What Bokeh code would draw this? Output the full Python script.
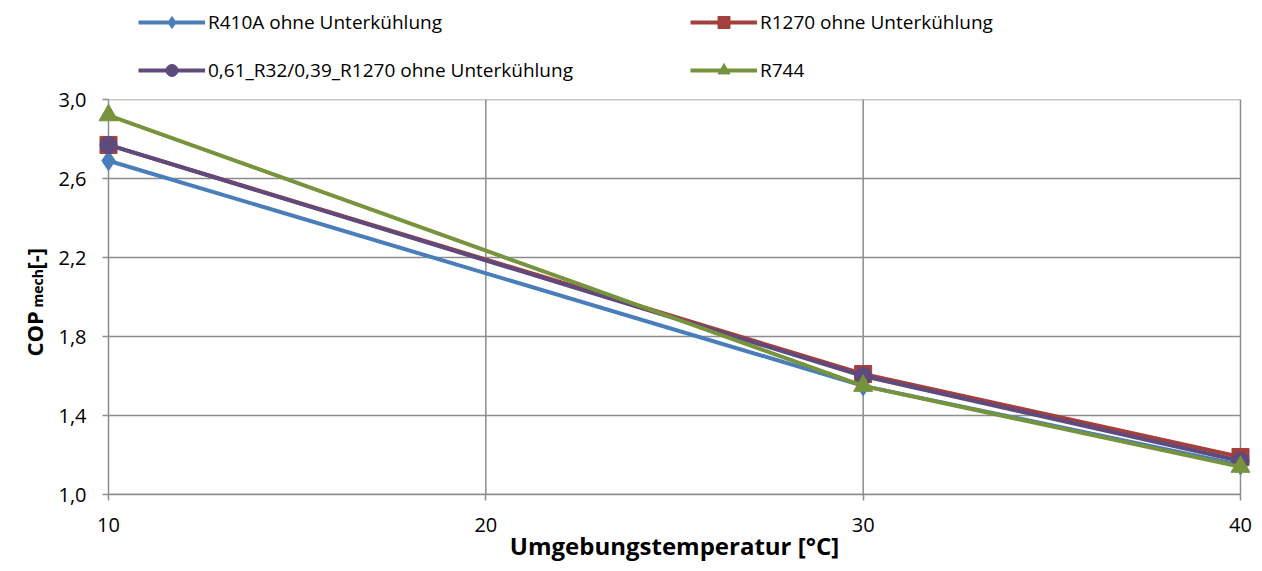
import math
from bokeh.plotting import figure
from bokeh.layouts import column, row
from bokeh.models import (Legend, LegendItem, Label, FixedTicker, CustomJSTickFormatter, Range1d)
from bokeh.embed import file_html
from bokeh.resources import INLINE

temps = [10, 30, 40]
r410a = [2.69, 1.55, 1.15]
r1270 = [2.77, 1.61, 1.19]
mix = [2.77, 1.60, 1.17]
r744 = [2.92, 1.55, 1.14]

names = ["R410A ohne Unterkühlung", "R1270 ohne Unterkühlung",
         "0,61_R32/0,39_R1270 ohne Unterkühlung", "R744"]
x_ticks = [10, 20, 30, 40]
y_ticks = [1.0, 1.4, 1.8, 2.2, 2.6, 3.0]

FONT = "Open Sans"
GRID = "#8c8c8c"
colors = ["#4A7EBB", "#A3403D", "#5F4A7D", "#77933C"]
markers = ["diamond", "square", "circle", "triangle"]
msizes = [20, 17, 17, 19]
series = [r410a, r1270, mix, r744]
LW = 4

# ---------------- main plot ----------------
LEG_H = 86
MAIN_W, MAIN_H = 1214, 571 - LEG_H
BL, BR, BT, BB = 50, 12, 13, 77
PAD_PX = 10
frame_w = MAIN_W - BL - BR
pad = PAD_PX * (x_ticks[-1] - x_ticks[0]) / (frame_w - 2 * PAD_PX)

p = figure(width=MAIN_W, height=MAIN_H, output_backend="svg", toolbar_location=None,
           x_range=Range1d(x_ticks[0] - pad, x_ticks[-1] + pad),
           y_range=Range1d(y_ticks[0], y_ticks[-1]),
           min_border_left=BL, min_border_right=BR, min_border_top=BT, min_border_bottom=BB)
p.background_fill_color = "white"
p.border_fill_color = "white"
p.outline_line_color = None
p.xgrid.visible = False
p.ygrid.visible = False

# grid / frame lines drawn from tick values
p.segment(x0=x_ticks, x1=x_ticks, y0=[y_ticks[0]] * len(x_ticks), y1=[y_ticks[-1]] * len(x_ticks),
          line_color=GRID, line_width=1.5)
p.segment(x0=[x_ticks[0]] * len(y_ticks), x1=[x_ticks[-1]] * len(y_ticks), y0=y_ticks, y1=y_ticks,
          line_color=GRID, line_width=1.5)

p.xaxis.ticker = FixedTicker(ticks=x_ticks)
p.yaxis.ticker = FixedTicker(ticks=y_ticks)
p.xaxis.bounds = (x_ticks[0], x_ticks[-1])
p.yaxis.formatter = CustomJSTickFormatter(code="return tick.toFixed(1).replace('.', ',');")
for ax in (p.xaxis, p.yaxis):
    ax.axis_line_color = GRID
    ax.axis_line_width = 1.5
    ax.major_tick_line_color = GRID
    ax.major_tick_line_width = 1.5
    ax.minor_tick_line_color = None
    ax.major_label_text_font = FONT
    ax.major_label_text_font_size = "20px"
    ax.major_label_text_color = "black"
p.xaxis.major_tick_out = 6
p.xaxis.major_tick_in = 0
# y axis sits at the frame edge; ticks are shifted inward to end at x = 10
p.yaxis.axis_line_color = None
p.yaxis.major_tick_in = PAD_PX
p.yaxis.major_tick_out = -(PAD_PX - 6)
p.yaxis.major_label_standoff = 12
p.xaxis.major_label_standoff = 17
p.xaxis.axis_label = "Umgebungstemperatur [°C]"
p.xaxis.axis_label_text_font = FONT
p.xaxis.axis_label_text_font_size = "24px"
p.xaxis.axis_label_text_font_style = "bold"
p.xaxis.axis_label_text_color = "black"
p.xaxis.axis_label_standoff = -6

for ys, c, m, s in zip(series, colors, markers, msizes):
    p.line(temps, ys, line_color=c, line_width=LW)
    p.scatter(temps, ys, marker=m, size=s, fill_color=c, line_color=c)

# ---------------- legend strip ----------------
leg = figure(width=1262, height=LEG_H, output_backend="svg", toolbar_location=None,
             x_range=Range1d(0, 1), y_range=Range1d(0, 1),
             x_axis_type=None, y_axis_type=None,
             min_border_left=0, min_border_right=0, min_border_top=0, min_border_bottom=0)
leg.outline_line_color = None
leg.xgrid.visible = False
leg.ygrid.visible = False
rends = []
for ys, c, m in zip(series, colors, markers):
    # same series; outside this strip's range so only the legend shows them
    lr = leg.line(temps, ys, line_color=c, line_width=LW)
    mr = leg.scatter(temps, ys, marker=m, size=16, fill_color=c, line_color=c)
    rends.append([lr, mr])

# column-major fill: column 1 = R410A, mix ; column 2 = R1270, R744
order = [0, 2, 1, 3]
items = [LegendItem(label=names[i], renderers=rends[i]) for i in order]
legend = Legend(items=items, ncols=2, location=(138, 0),
                glyph_width=67, glyph_height=30, label_standoff=3,
                label_width=466, label_height=32, spacing=16,
                padding=0, margin=0, border_line_color=None,
                background_fill_alpha=0,
                label_text_font=FONT, label_text_font_size="19px",
                label_text_color="black")
leg.add_layout(legend, "center")

# ---------------- y-axis title strip ----------------
yl = figure(width=48, height=MAIN_H, output_backend="svg", toolbar_location=None,
            x_range=Range1d(0, 1), y_range=Range1d(0, 1),
            x_axis_type=None, y_axis_type=None,
            min_border_left=0, min_border_right=0, min_border_top=0, min_border_bottom=0)
yl.outline_line_color = None
yl.xgrid.visible = False
yl.ygrid.visible = False
common = dict(x_units="screen", y_units="screen", angle=math.pi / 2, text_font=FONT,
              text_font_style="bold", text_align="left", text_baseline="alphabetic",
              text_color="black")
yl.add_layout(Label(x=33, y=138, text="COP", text_font_size="22px", **common))
yl.add_layout(Label(x=37, y=187, text="mech", text_font_size="14px", **common))
yl.add_layout(Label(x=33, y=225, text="[-]", text_font_size="22px", **common))

layout = column(leg, row(yl, p, spacing=0), spacing=0)
open("out.html", "w").write(file_html(layout, INLINE))
